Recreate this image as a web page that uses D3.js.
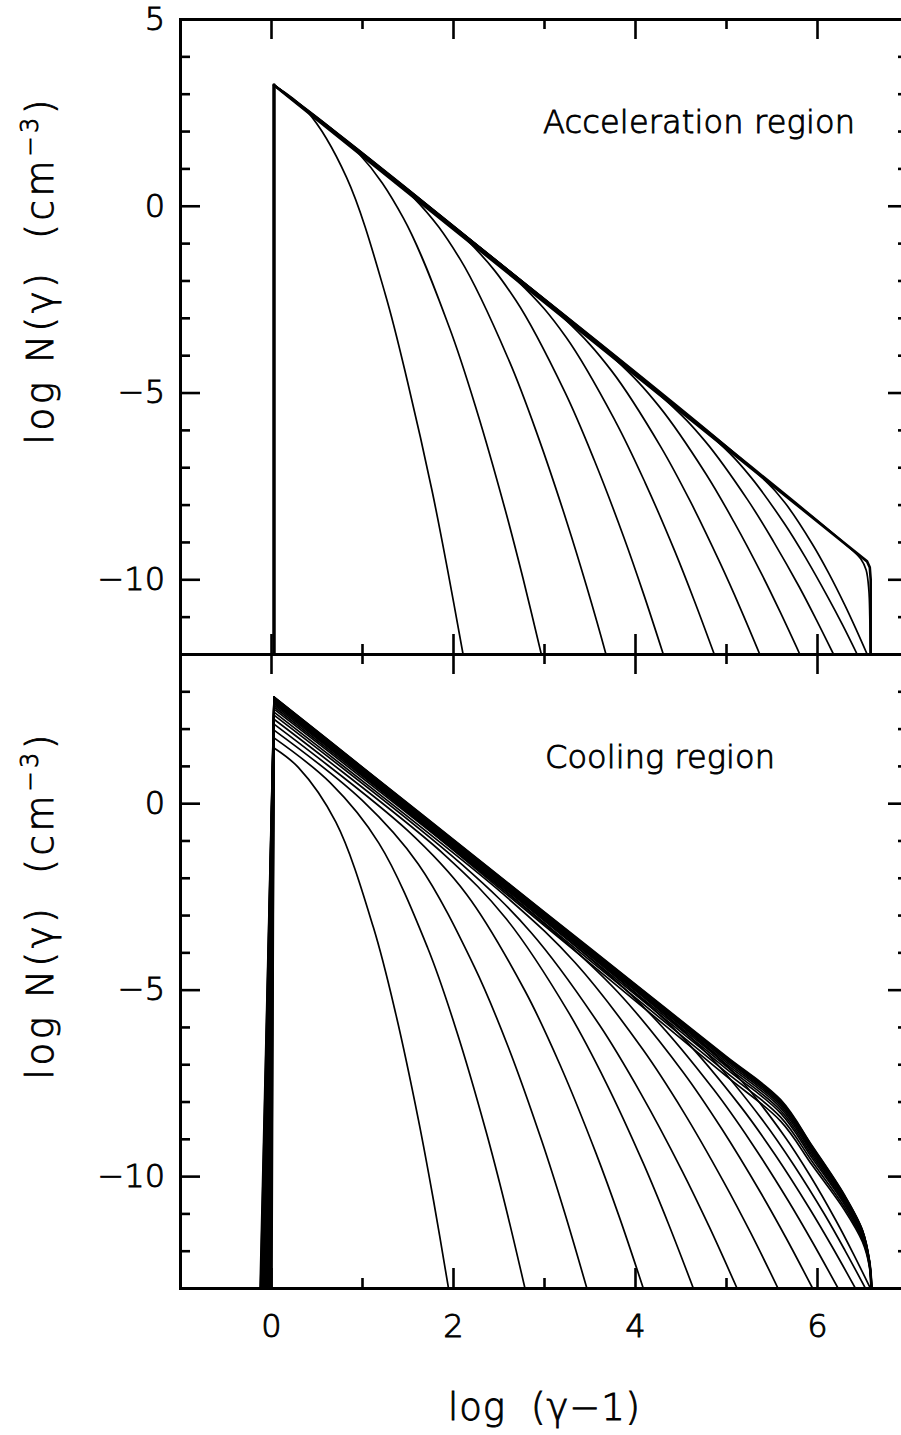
<!DOCTYPE html>
<html><head><meta charset="utf-8">
<script src="https://cdn.jsdelivr.net/npm/d3@7"></script>
<style>body{margin:0;background:#fff}svg{display:block}</style>
</head><body>
<svg id="chart" width="901" height="1435"></svg>
<script>
// ---------- tick values ----------
const xMajor = [0, 2, 4, 6];
const xMinor = [1, 3, 5];
const yTopMajor = [5, 0, -5, -10];
const yTopMinor = [4, 3, 2, 1, -1, -2, -3, -4, -6, -7, -8, -9, -11];
const yBotMajor = [0, -5, -10];
const yBotMinor = [3, 2, 1, -1, -2, -3, -4, -6, -7, -8, -9, -11, -12];

// ---------- acceleration region (top): [log(gamma-1), log N] ----------
const topLowEdge = [[0.033, -12], [0.033, 3.23]];
const topEnvelope = [[0.033, 3.23], [6.55, -9.52], [6.58, -9.68], [6.59, -10], [6.59, -12]];
const topC1 = [[0.033,3.23],[0.4,2.52],[0.83,0.76],[1.255,-2.36],[1.51,-4.81],[1.77,-7.63],[1.94,-9.74],[2.11,-12]];
const topC2 = [[0.033,3.23],[0.95,1.44],[1.455,-0.33],[1.96,-3.26],[2.263,-5.50],[2.566,-8.07],[2.768,-9.96],[2.97,-12]];
const topC3 = [[0.033,3.23],[1.55,0.26],[2.083,-1.45],[2.615,-4.14],[2.935,-6.18],[3.254,-8.49],[3.467,-10.18],[3.68,-12]];
const topC4 = [[0.033,3.23],[2.15,-0.91],[2.69,-2.53],[3.23,-4.99],[3.554,-6.82],[3.878,-8.88],[4.094,-10.39],[4.31,-12]];
const topC5 = [[0.033,3.23],[2.7,-1.99],[3.243,-3.52],[3.785,-5.77],[4.111,-7.41],[4.436,-9.24],[4.653,-10.58],[4.87,-12]];
const topC6 = [[0.033,3.23],[3.2,-2.97],[3.743,-4.42],[4.285,-6.46],[4.611,-7.93],[4.936,-9.57],[5.153,-10.75],[5.37,-12]];
const topC7 = [[0.033,3.23],[3.75,-4.04],[4.265,-5.37],[4.78,-7.18],[5.089,-8.47],[5.398,-9.89],[5.604,-10.92],[5.81,-12]];
const topC8 = [[0.033,3.23],[4.3,-5.12],[4.77,-6.30],[5.24,-7.88],[5.522,-8.99],[5.804,-10.20],[5.992,-11.08],[6.18,-12]];
const topC9 = [[0.033,3.23],[4.85,-6.19],[5.248,-7.19],[5.645,-8.52],[5.884,-9.46],[6.122,-10.49],[6.281,-11.22],[6.44,-12]];
const topC10 = [[0.033,3.23],[5.35,-7.17],[5.65,-7.96],[5.95,-9.06],[6.13,-9.84],[6.31,-10.71],[6.43,-11.34],[6.55,-12]];
const topC11 = [[0.033,3.23],[6.3,-9.03],[6.48,-9.45],[6.54,-9.75],[6.57,-10.3],[6.58,-11],[6.585,-12]];
const topCurves = [topC1, topC2, topC3, topC4, topC5, topC6, topC7, topC8, topC9, topC10, topC11];

// ---------- cooling region (bottom) ----------
const botLowX = [0.01, 0.004, -0.002, -0.008, -0.014, -0.02, -0.026, -0.032, -0.038, -0.044, -0.05, -0.056,
                 -0.062, -0.068, -0.074, -0.08, -0.086, -0.092, -0.098, -0.104, -0.11, -0.115, -0.12];
const botC1 = [[0.033,1.48],[0.3,0.96],[0.713,-0.51],[1.125,-3.33],[1.373,-5.67],[1.62,-8.49],[1.785,-10.64],[1.95,-13]];
const botC2 = [[0.033,1.75],[0.65,0.55],[1.185,-1.07],[1.72,-3.87],[2.041,-6.12],[2.362,-8.79],[2.576,-10.80],[2.79,-13]];
const botC3 = [[0.033,1.96],[1.0,0.08],[1.618,-1.63],[2.235,-4.39],[2.606,-6.53],[2.976,-9.06],[3.223,-10.95],[3.47,-13]];
const botC4 = [[0.033,2.12],[1.5,-0.73],[2.148,-2.44],[2.795,-5.05],[3.184,-7.06],[3.572,-9.39],[3.831,-11.12],[4.09,-13]];
const botC5 = [[0.033,2.25],[1.9,-1.37],[2.585,-3.10],[3.27,-5.61],[3.681,-7.49],[4.092,-9.66],[4.366,-11.27],[4.64,-13]];
const botC6 = [[0.033,2.36],[2.1,-1.65],[2.855,-3.46],[3.61,-5.95],[4.063,-7.78],[4.516,-9.85],[4.818,-11.37],[5.12,-13]];
const botC7 = [[0.033,2.44],[2.6,-2.54],[3.343,-4.28],[4.085,-6.60],[4.531,-8.27],[4.976,-10.16],[5.273,-11.53],[5.57,-13]];
const botC8 = [[0.033,2.52],[3.1,-3.43],[3.813,-5.07],[4.525,-7.20],[4.953,-8.73],[5.38,-10.44],[5.665,-11.68],[5.95,-13]];
const botC9 = [[0.033,2.58],[3.5,-4.15],[4.183,-5.69],[4.865,-7.68],[5.275,-9.09],[5.684,-10.66],[5.957,-11.80],[6.23,-13]];
const botC10 = [[0.033,2.63],[3.9,-4.87],[4.53,-6.30],[5.16,-8.13],[5.538,-9.42],[5.916,-10.86],[6.168,-11.90],[6.42,-13]];
const botC11 = [[0.033,2.67],[4.3,-5.61],[4.858,-6.88],[5.415,-8.54],[5.75,-9.72],[6.084,-11.03],[6.307,-11.99],[6.53,-13]];
const botC12 = [[0.033,2.70],[4.7,-6.35],[5.171,-7.45],[5.643,-8.93],[5.925,-9.99],[6.208,-11.19],[6.397,-12.07],[6.585,-13]];
const botC13 = [[0.033,2.72],[1,0.767],[2,-1.253],[3,-3.273],[4,-5.293],[5,-7.313],[5.6,-8.525],[5.95,-9.718],[6.3,-10.903],[6.5,-11.766],[6.575,-12.42],[6.592,-13]];
const botC14 = [[0.033,2.745],[1,0.806],[2,-1.199],[3,-3.204],[4,-5.209],[5,-7.214],[5.6,-8.417],[5.95,-9.62],[6.3,-10.827],[6.5,-11.707],[6.575,-12.39],[6.593,-13]];
const botC15 = [[0.033,2.765],[1,0.841],[2,-1.149],[3,-3.139],[4,-5.129],[5,-7.119],[5.6,-8.313],[5.95,-9.527],[6.3,-10.754],[6.5,-11.65],[6.575,-12.36],[6.595,-13]];
const botC16 = [[0.033,2.782],[1,0.867],[2,-1.113],[3,-3.093],[4,-5.073],[5,-7.053],[5.6,-8.241],[5.95,-9.462],[6.3,-10.704],[6.5,-11.61],[6.575,-12.34],[6.596,-13]];
const botC17 = [[0.033,2.797],[1,0.892],[2,-1.078],[3,-3.048],[4,-5.018],[5,-6.988],[5.6,-8.17],[5.95,-9.398],[6.3,-10.654],[6.5,-11.571],[6.575,-12.32],[6.598,-13]];
const botC18 = [[0.033,2.81],[1,0.913],[2,-1.049],[3,-3.011],[4,-4.973],[5,-6.935],[5.6,-8.112],[5.95,-9.346],[6.3,-10.613],[6.5,-11.539],[6.575,-12.3],[6.599,-13]];
const botC19 = [[0.033,2.82],[1,0.929],[2,-1.026],[3,-2.981],[4,-4.936],[5,-6.891],[5.6,-8.064],[5.95,-9.303],[6.3,-10.58],[6.5,-11.513],[6.575,-12.28],[6.6,-13]];
const botC20 = [[0.033,2.83],[1,0.944],[2,-1.006],[3,-2.956],[4,-4.906],[5,-6.856],[5.6,-8.026],[5.95,-9.268],[6.3,-10.553],[6.5,-11.492],[6.575,-12.27],[6.601,-13]];
const botC21 = [[0.033,2.838],[1,0.956],[2,-0.99],[3,-2.936],[4,-4.882],[5,-6.828],[5.6,-7.995],[5.95,-9.241],[6.3,-10.532],[6.5,-11.475],[6.575,-12.26],[6.602,-13]];
const botC22 = [[0.033,2.845],[1,0.966],[2,-0.977],[3,-2.92],[4,-4.863],[5,-6.806],[5.6,-7.972],[5.95,-9.22],[6.3,-10.515],[6.5,-11.462],[6.575,-12.26],[6.603,-13]];
const botC23 = [[0.033,2.85],[1,0.974],[2,-0.966],[3,-2.906],[4,-4.846],[5,-6.786],[5.6,-7.95],[5.95,-9.20],[6.3,-10.5],[6.5,-11.45],[6.58,-12.3],[6.604,-13]];
const botCurves = [botC1, botC2, botC3, botC4, botC5, botC6, botC7, botC8, botC9, botC10, botC11, botC12,
                   botC13, botC14, botC15, botC16, botC17, botC18, botC19, botC20, botC21, botC22, botC23];

// ---------- labels ----------
const topNote = "Acceleration region";
const botNote = "Cooling region";

// ---------- layout ----------
const svg = d3.select("#chart");
const FONT = "DejaVu Sans";
const FW = 200;
const TS = 0.9; // extra stroke on glyphs
const x = d3.scaleLinear().domain([-1, 7]).range([180, 908]);
const yTop = d3.scaleLinear().domain([-12, 5]).range([654, 19]);
const yBot = d3.scaleLinear().domain([-13, 4]).range([1288, 654]);

const defs = svg.append("defs");
defs.append("clipPath").attr("id", "clipTop").append("rect")
  .attr("x", x(-1)).attr("y", yTop(5)).attr("width", x(7) - x(-1)).attr("height", yTop(-12) - yTop(5));
defs.append("clipPath").attr("id", "clipBot").append("rect")
  .attr("x", x(-1)).attr("y", yBot(4)).attr("width", x(7) - x(-1)).attr("height", yBot(-13) - yBot(4));

// ---------- curves ----------
const smoothTop = d3.line().x(d => x(d[0])).y(d => yTop(d[1])).curve(d3.curveCatmullRom.alpha(0.5));
const lineTop = d3.line().x(d => x(d[0])).y(d => yTop(d[1]));
const smoothBot = d3.line().x(d => x(d[0])).y(d => yBot(d[1])).curve(d3.curveCatmullRom.alpha(0.5));
const lineBot = d3.line().x(d => x(d[0])).y(d => yBot(d[1]));

const gTop = svg.append("g").attr("clip-path", "url(#clipTop)")
  .attr("fill", "none").attr("stroke", "#000").attr("stroke-linejoin", "round").attr("stroke-linecap", "round");
gTop.append("path").attr("stroke-width", 3.5).attr("d", lineTop(topLowEdge));
topCurves.forEach(c => gTop.append("path").attr("stroke-width", 1.7).attr("d", smoothTop(c)));
gTop.append("path").attr("stroke-width", 2.6).attr("d", lineTop(topEnvelope));

const gBot = svg.append("g").attr("clip-path", "url(#clipBot)")
  .attr("fill", "none").attr("stroke", "#000").attr("stroke-linejoin", "round").attr("stroke-linecap", "round");
botCurves.forEach((c, k) => {
  gBot.append("path").attr("stroke-width", 1.7).attr("d", lineBot([[botLowX[k], -13], c[0]]));
  gBot.append("path").attr("stroke-width", 1.7).attr("d", smoothBot(c));
});

// ---------- axes ----------
function styleAxis(g) {
  g.attr("font-family", FONT).attr("font-size", 32).attr("font-weight", FW);
  g.selectAll(".domain").attr("stroke-width", 3).attr("stroke", "#000");
  g.selectAll(".tick line").attr("stroke-width", 2.6).attr("stroke", "#000");
  g.selectAll(".tick text").attr("fill", "#000").attr("stroke", "#000").attr("stroke-width", TS);
  return g;
}
function axisPair(gen, scale, tr, major, minor, labels, pad) {
  const gMa = svg.append("g").attr("transform", tr)
    .call(gen(scale).tickValues(major).tickSize(-20).tickPadding(pad || 3)
      .tickFormat(labels ? d3.format("d") : () => ""));
  styleAxis(gMa);
  const gMi = svg.append("g").attr("transform", tr)
    .call(gen(scale).tickValues(minor).tickSize(-10).tickFormat(() => ""));
  styleAxis(gMi);
  return gMa;
}
axisPair(d3.axisLeft, yTop, `translate(${x(-1)},0)`, yTopMajor, yTopMinor, true, 15);
axisPair(d3.axisRight, yTop, `translate(${x(7)},0)`, yTopMajor, yTopMinor, false);
axisPair(d3.axisTop, x, `translate(0,${yTop(5)})`, xMajor, xMinor, false);
axisPair(d3.axisBottom, x, `translate(0,${yTop(-12)})`, xMajor, xMinor, false);
axisPair(d3.axisLeft, yBot, `translate(${x(-1)},0)`, yBotMajor, yBotMinor, true, 15);
axisPair(d3.axisRight, yBot, `translate(${x(7)},0)`, yBotMajor, yBotMinor, false);
axisPair(d3.axisTop, x, `translate(0,${yBot(4)})`, xMajor, xMinor, false);
axisPair(d3.axisBottom, x, `translate(0,${yBot(-13)})`, xMajor, xMinor, true, 26);

// ---------- texts ----------
function txt(sel) {
  return sel.attr("font-family", FONT).attr("font-weight", FW).attr("fill", "#000")
    .attr("stroke", "#000").attr("stroke-width", TS);
}
txt(svg.append("text")).attr("x", 543).attr("y", 133).attr("font-size", 32)
  .attr("textLength", 312).attr("lengthAdjust", "spacing").text(topNote);
txt(svg.append("text")).attr("x", 545).attr("y", 768).attr("font-size", 32)
  .attr("textLength", 230).attr("lengthAdjust", "spacing").text(botNote);

function yLabel(cy) {
  const t = txt(svg.append("text")).attr("transform", `translate(53,${cy}) rotate(-90)`)
    .attr("text-anchor", "middle").attr("font-size", 37)
    .attr("textLength", 345).attr("lengthAdjust", "spacing")
    .style("white-space", "pre");
  t.append("tspan").text("log N(γ)  (cm");
  t.append("tspan").attr("dy", -15).attr("font-size", 24).text("−3");
  t.append("tspan").attr("dy", 15).text(")");
}
yLabel(272);
yLabel(907);

txt(svg.append("text")).attr("x", 544).attr("y", 1420).attr("text-anchor", "middle")
  .attr("font-size", 37).attr("textLength", 192).attr("lengthAdjust", "spacing")
  .style("white-space", "pre").text("log  (γ−1)");
</script>
</body></html>
